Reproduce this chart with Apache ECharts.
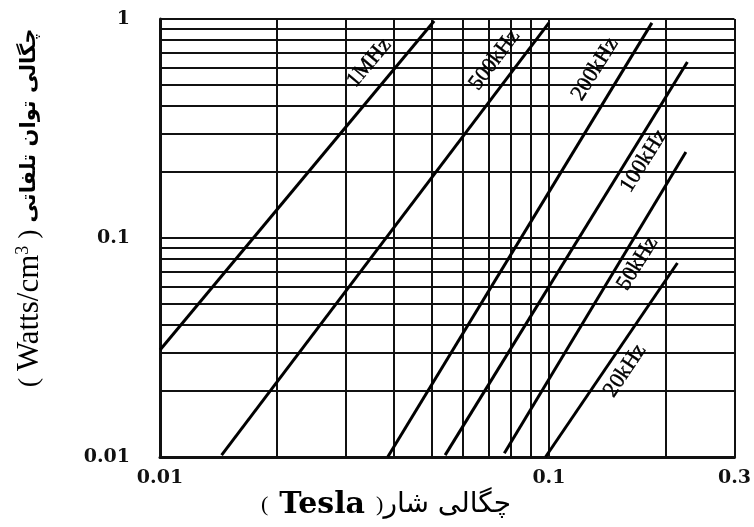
<!DOCTYPE html>
<html>
<head>
<meta charset="utf-8">
<script src="https://cdn.jsdelivr.net/npm/echarts@6/dist/echarts.min.js"></script>
<style>
  html, body { margin: 0; padding: 0; background: #fff; }
  #chart { width: 754px; height: 527px; }
</style>
</head>
<body>
<div id="chart"></div>
<script>
// Core loss curves of a ferrite material, one straight line per frequency (log-log)
const frequencies = ['1MHz', '500kHz', '200kHz', '100kHz', '50kHz', '20kHz'];
// flux density (Tesla) at the two ends of each curve
const fluxStart = [0.01, 0.0144, 0.0385, 0.0541, 0.0768, 0.098];
const fluxEnd   = [0.0507, 0.1, 0.184, 0.227, 0.225, 0.214];
// loss density (W/cm3) at the two ends of each curve
const lossStart = [0.0308, 0.0102, 0.0100, 0.0102, 0.0104, 0.0100];
const lossEnd   = [0.98, 0.96, 0.96, 0.636, 0.247, 0.0769];

// grid lines and tick labels
const xGridValues = [0.01, 0.02, 0.03, 0.04, 0.05, 0.06, 0.07, 0.08, 0.09, 0.1, 0.2, 0.3];
const xTickLabels = [0.01, 0.1, 0.3];
const yGridValues = [0.01, 0.02, 0.03, 0.04, 0.05, 0.06, 0.07, 0.08, 0.09,
                     0.1, 0.2, 0.3, 0.4, 0.5, 0.6, 0.7, 0.8, 0.9, 1];
const yTickLabels = [0.01, 0.1, 1];

// where each curve name is written, and its slant
const nameAnchors = [[0.0345, 0.63], [0.0725, 0.65], [0.1315, 0.59], [0.1755, 0.225], [0.169, 0.0765], [0.157, 0.0248]];
const nameAngles = [50, 53, 58, 58, 58, 56];

const chart = echarts.init(document.getElementById('chart'), null, { renderer: 'canvas' });

const ink = '#111';
const tickFont = { color: ink, fontSize: 19, fontWeight: 'bold', fontFamily: 'DejaVu Serif' };
const fmt = v => String(+(+v).toPrecision(3));

const series = frequencies.map((name, i) => ({
  name: name,
  type: 'line',
  data: [[fluxStart[i], lossStart[i]], [fluxEnd[i], lossEnd[i]]],
  symbol: 'none',
  silent: true,
  z: 5,
  lineStyle: { color: '#000', width: 3 },
  markPoint: {
    symbol: 'circle',
    symbolSize: 0,
    silent: true,
    data: [{
      coord: nameAnchors[i],
      label: {
        show: true,
        position: 'inside',
        formatter: name,
        rotate: nameAngles[i],
        color: '#000',
        fontSize: 22,
        fontFamily: 'Liberation Serif',
        textBorderColor: '#000',
        textBorderWidth: 0.4
      }
    }]
  }
}));

chart.setOption({
  backgroundColor: '#fff',
  animation: false,
  grid: { left: 160, right: 14, top: 19, bottom: 70, containLabel: false },
  xAxis: {
    type: 'log',
    logBase: 10,
    min: 0.01,
    max: 0.3,
    axisLine: { show: true, onZero: false, lineStyle: { color: ink, width: 3 } },
    axisTick: { show: false, customValues: xGridValues },
    axisLabel: { customValues: xTickLabels, margin: 12, formatter: fmt, ...tickFont },
    splitLine: { show: true, lineStyle: { color: ink, width: 2 } }
  },
  yAxis: {
    type: 'log',
    logBase: 10,
    min: 0.01,
    max: 1,
    axisLine: { show: true, onZero: false, lineStyle: { color: ink, width: 3 } },
    axisTick: { show: false, customValues: yGridValues },
    axisLabel: { customValues: yTickLabels, margin: 30, formatter: fmt, ...tickFont },
    splitLine: { show: true, lineStyle: { color: ink, width: 2 } }
  },
  graphic: [
    {
      type: 'text',
      x: 30,
      y: 208,
      rotation: Math.PI / 2,
      style: {
        text: '{p|( }{w|Watts/cm}{s|3}{p| ) }{f|چگالی توان تلفاتی}',
        align: 'center',
        verticalAlign: 'middle',
        fill: '#000',
        rich: {
          p: { fontSize: 28, fontFamily: 'Liberation Serif', fill: '#000' },
          w: { fontSize: 31, fontFamily: 'Liberation Serif', fill: '#000' },
          s: { fontSize: 18, fontFamily: 'Liberation Serif', fill: '#000', verticalAlign: 'top', padding: [0, 0, 14, 0] },
          f: { fontSize: 21, fontWeight: 'bold', fontFamily: 'DejaVu Sans', fill: '#000' }
        }
      }
    },
    {
      type: 'text',
      x: 386,
      y: 505,
      style: {
        text: '{p|(  }{t|Tesla}{p|  )}{f|چگالی شار}',
        align: 'center',
        verticalAlign: 'middle',
        fill: '#000',
        rich: {
          p: { fontSize: 22, fontFamily: 'Liberation Serif', fill: '#000' },
          t: { fontSize: 30, fontWeight: 'bold', fontFamily: 'DejaVu Serif', fill: '#000' },
          f: { fontSize: 28, fontFamily: 'DejaVu Sans', fill: '#000' }
        }
      }
    }
  ],
  series: series
});
</script>
</body>
</html>
